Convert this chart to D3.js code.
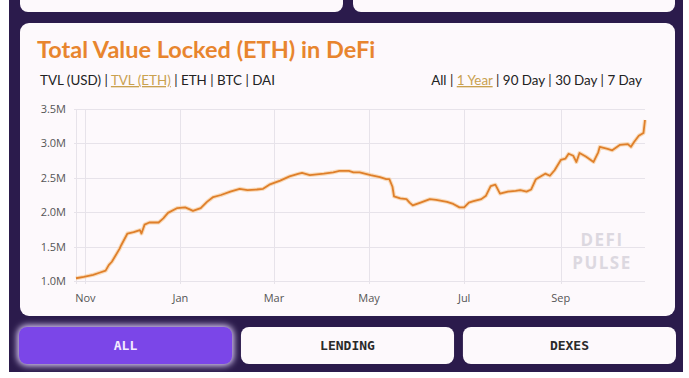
<!DOCTYPE html>
<html lang="en">
<head>
<meta charset="UTF-8">
<title>Total Value Locked (ETH) in DeFi</title>
<script src="https://d3js.org/d3.v7.min.js"></script>
<style>
  body { margin: 0; background: #fff; }
  svg { display: block; }
</style>
</head>
<body>
<svg id="chart" width="689" height="378"></svg>
<script>
// daily TVL in ETH (millions)
var dates = ["2019-10-26","2019-10-31","2019-11-06","2019-11-10","2019-11-14","2019-11-16","2019-11-18",
  "2019-11-23","2019-11-24","2019-11-28","2019-12-02","2019-12-06","2019-12-07","2019-12-09","2019-12-12",
  "2019-12-18","2019-12-21","2019-12-24","2019-12-30","2020-01-04","2020-01-07","2020-01-09","2020-01-14",
  "2020-01-18","2020-01-22","2020-01-27","2020-02-02","2020-02-08","2020-02-13","2020-02-19","2020-02-23",
  "2020-02-27","2020-03-05","2020-03-11","2020-03-17","2020-03-19","2020-03-24","2020-04-02","2020-04-08",
  "2020-04-12","2020-04-18","2020-04-21","2020-04-25","2020-05-02","2020-05-08","2020-05-12","2020-05-14",
  "2020-05-16","2020-05-17","2020-05-21","2020-05-25","2020-05-27","2020-05-29","2020-06-03","2020-06-09",
  "2020-06-13","2020-06-20","2020-06-24","2020-06-28","2020-07-01","2020-07-04","2020-07-07","2020-07-12",
  "2020-07-15","2020-07-18","2020-07-21","2020-07-24","2020-07-29","2020-08-03","2020-08-06","2020-08-10",
  "2020-08-13","2020-08-16","2020-08-19","2020-08-22","2020-08-25","2020-08-28","2020-09-01","2020-09-04",
  "2020-09-06","2020-09-09","2020-09-11","2020-09-13","2020-09-17","2020-09-22","2020-09-25","2020-09-26",
  "2020-10-01","2020-10-04","2020-10-09","2020-10-14","2020-10-16","2020-10-18","2020-10-21","2020-10-24",
  "2020-10-25"];
var tvl = [1.04,1.06,1.09,1.12,1.15,1.23,1.28,
  1.47,1.52,1.69,1.71,1.74,1.69,1.82,1.85,
  1.85,1.91,1.99,2.06,2.07,2.04,2.02,2.06,
  2.15,2.22,2.25,2.30,2.34,2.32,2.33,2.34,
  2.40,2.46,2.52,2.56,2.57,2.54,2.56,2.58,
  2.60,2.60,2.58,2.58,2.54,2.51,2.48,2.48,
  2.37,2.23,2.20,2.19,2.14,2.10,2.14,2.19,
  2.18,2.15,2.12,2.07,2.07,2.14,2.16,2.19,
  2.24,2.38,2.40,2.27,2.30,2.31,2.32,2.30,
  2.33,2.48,2.52,2.56,2.53,2.61,2.76,2.78,
  2.85,2.82,2.73,2.86,2.81,2.73,2.87,2.95,
  2.92,2.90,2.98,2.99,2.95,3.02,3.11,3.15,
  3.34];
var yTicks = [1.0, 1.5, 2.0, 2.5, 3.0, 3.5];
var unitLinks = ["TVL (USD)", "TVL (ETH)", "ETH", "BTC", "DAI"];
var rangeLinks = ["All", "1 Year", "90 Day", "30 Day", "7 Day"];
var tabs = ["ALL", "LENDING", "DEXES"];

var parse = d3.timeParse("%Y-%m-%d");
var data = dates.map(function(d, i) { return {date: parse(d), value: tvl[i]}; });

var svg = d3.select("#chart");
var orange = "#e8852e", gold = "#c9a150";

// page background
svg.append("rect").attr("x", 9).attr("y", 0).attr("width", 674).attr("height", 372).attr("fill", "#2b1b4c");

// cards at the top (cut off)
svg.append("rect").attr("x", 20).attr("y", -12).attr("width", 323).attr("height", 24).attr("rx", 8).attr("fill", "#fdf9fc");
svg.append("rect").attr("x", 353).attr("y", -12).attr("width", 322).attr("height", 24).attr("rx", 8).attr("fill", "#fdf9fc");

// main card
svg.append("rect").attr("x", 20).attr("y", 23).attr("width", 655).attr("height", 293).attr("rx", 9).attr("fill", "#fdf9fc");

svg.append("text")
  .attr("x", 37).attr("y", 58)
  .attr("fill", orange)
  .style("font-family", "Lato, 'Open Sans', sans-serif")
  .style("font-weight", "700")
  .style("font-size", "23.5px")
  .text("Total Value Locked (ETH) in DeFi");

function linkRow(items, active, x, anchor) {
  var t = svg.append("text")
    .attr("x", x).attr("y", 85)
    .attr("text-anchor", anchor)
    .style("font-family", "Lato, 'Open Sans', sans-serif")
    .style("font-size", "13.4px")
    .attr("fill", "#222");
  items.forEach(function(d, i) {
    if (i > 0) t.append("tspan").text(" | ");
    var s = t.append("tspan").text(d);
    if (d == active) s.attr("fill", gold).style("text-decoration", "underline");
  });
}
linkRow(unitLinks, "TVL (ETH)", 40, "start");
linkRow(rangeLinks, "1 Year", 642, "end");

// chart
var x = d3.scaleTime()
  .domain([parse("2019-10-26"), parse("2020-10-25")])
  .range([76, 645]);
var y = d3.scaleLinear()
  .domain([1.0, 3.5])
  .range([281, 109]);

var grid = svg.append("g").attr("stroke", "#e7e3ea").attr("stroke-width", 1);
grid.selectAll(".h").data(yTicks).enter().append("line")
  .attr("x1", 74).attr("x2", 645)
  .attr("y1", function(d) { return Math.round(y(d)) + 0.5; })
  .attr("y2", function(d) { return Math.round(y(d)) + 0.5; });

var xTicks = x.ticks(d3.timeMonth.every(2));
grid.selectAll(".v").data(xTicks).enter().append("line")
  .attr("x1", function(d) { return Math.round(x(d)) + 0.5; })
  .attr("x2", function(d) { return Math.round(x(d)) + 0.5; })
  .attr("y1", 109).attr("y2", 284);
grid.append("line").attr("x1", 76.5).attr("x2", 76.5).attr("y1", 109).attr("y2", 284);

svg.append("g").selectAll("text").data(yTicks).enter().append("text")
  .attr("x", 66).attr("y", function(d) { return y(d) + 4; })
  .attr("text-anchor", "end")
  .attr("fill", "#555")
  .style("font-family", "'Open Sans', sans-serif")
  .style("font-size", "11px")
  .text(function(d) { return d3.format(".1f")(d) + "M"; });

svg.append("g").selectAll("text").data(xTicks).enter().append("text")
  .attr("x", function(d) { return x(d); }).attr("y", 302)
  .attr("text-anchor", "middle")
  .attr("fill", "#555")
  .style("font-family", "'Open Sans', sans-serif")
  .style("font-size", "11px")
  .text(d3.timeFormat("%b"));

// watermark
var wm = svg.append("g")
  .attr("fill", "#dcd8e0")
  .attr("text-anchor", "middle")
  .style("font-family", "'Open Sans', sans-serif")
  .style("font-weight", "700")
  .style("font-size", "17px")
  .style("letter-spacing", "1.5px");
wm.append("text").attr("x", 602).attr("y", 246).text("DEFI");
wm.append("text").attr("x", 602).attr("y", 269).text("PULSE");

var line = d3.line()
  .x(function(d) { return x(d.date); })
  .y(function(d) { return y(d.value); });

svg.append("path").datum(data)
  .attr("fill", "none")
  .attr("stroke", "#f6c690")
  .attr("stroke-width", 4)
  .attr("stroke-opacity", 0.6)
  .attr("stroke-linejoin", "round")
  .attr("d", line);
svg.append("path").datum(data)
  .attr("fill", "none")
  .attr("stroke", "#df7f2a")
  .attr("stroke-width", 1.8)
  .attr("stroke-linejoin", "round")
  .attr("d", line);

// tabs at the bottom
var defs = svg.append("defs");
defs.append("filter").attr("id", "glow").attr("x", "-20%").attr("y", "-50%").attr("width", "140%").attr("height", "200%")
  .append("feGaussianBlur").attr("stdDeviation", 3);

var tabX = d3.scaleBand().domain(tabs).range([19, 676]).paddingInner(0.04);
svg.append("rect")
  .attr("x", tabX("ALL") - 2).attr("y", 325).attr("width", tabX.bandwidth() + 4).attr("height", 41)
  .attr("rx", 10).attr("fill", "#d9c9f5").attr("filter", "url(#glow)");
var tab = svg.append("g").selectAll("g").data(tabs).enter().append("g");
tab.append("rect")
  .attr("x", function(d) { return tabX(d); }).attr("y", 327)
  .attr("width", tabX.bandwidth()).attr("height", 37).attr("rx", 8)
  .attr("fill", function(d) { return d == "ALL" ? "#7b46e8" : "#fdf9fc"; });
tab.append("text")
  .attr("x", function(d) { return tabX(d) + tabX.bandwidth() / 2; }).attr("y", 350)
  .attr("text-anchor", "middle")
  .attr("fill", function(d) { return d == "ALL" ? "#f3ecff" : "#2a2a2a"; })
  .style("font-family", "'DejaVu Sans Mono', monospace")
  .style("font-weight", "700")
  .style("font-size", "13px")
  .text(function(d) { return d; });
</script>
</body>
</html>
